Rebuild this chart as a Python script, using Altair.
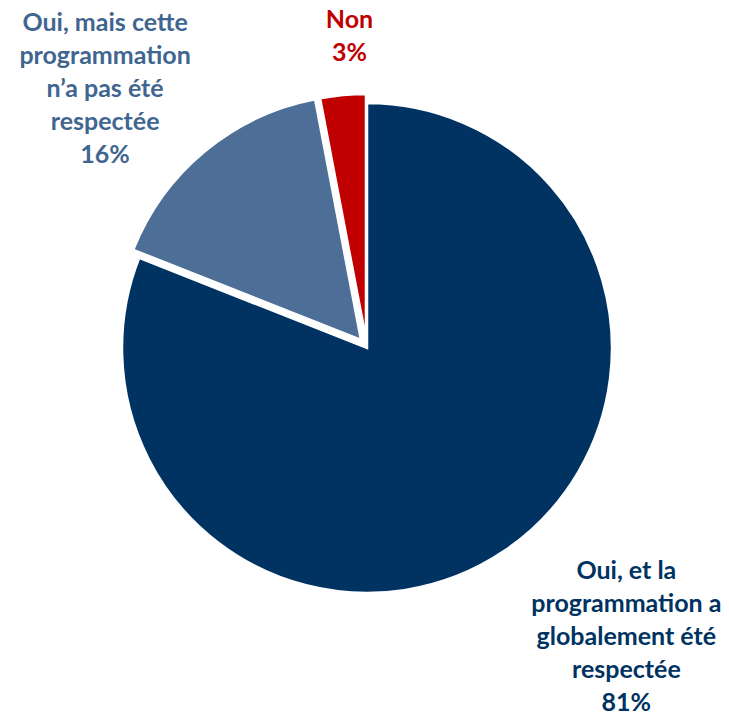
import altair as alt
import pandas as pd

categories = [
    "Oui, et la programmation a globalement été respectée",
    "Oui, mais cette programmation n’a pas été respectée",
    "Non",
]
label_lines = [
    "Oui, et la\nprogrammation a\nglobalement été\nrespectée\n81%",
    "Oui, mais cette\nprogrammation\nn’a pas été\nrespectée\n16%",
    "Non\n3%",
]
values = [81, 16, 3]

df = pd.DataFrame({
    "order": list(range(len(categories))),
    "category": categories,
    "label": label_lines,
    "value": values,
})

fills = ["#003262", "#4d6e97", "#C00000"]
text_colors = ["#003262", "#3F6690", "#C00000"]

CX, CY = 359, 340
R = 245

# explode offsets (pixels) per slice
offsets = [(0, 0), (-6, -8), (-1, -9)]
# label placement: radius, dx, dy (dy relative to first line)
label_pos = [(360, 57, -75), (345, -42, -59), (314, 12, -15)]

base = (
    alt.Chart(df)
    .transform_joinaggregate(total="sum(value)")
    .transform_window(cum="sum(value)", sort=[alt.SortField("order")], frame=[None, 0])
    .transform_calculate(
        start="(datum.cum - datum.value) / datum.total",
        end="datum.cum / datum.total",
        mid="(datum.cum - datum.value / 2) / datum.total",
    )
)

theta_scale = alt.Scale(domain=[0, 1], range=[0, 6.283185307179586])

layers = []
for i in range(len(categories)):
    ox, oy = offsets[i]
    arc = (
        base.transform_filter(f"datum.order == {i}")
        .mark_arc(outerRadius=R, stroke="white", strokeWidth=2.5, fill=fills[i])
        .encode(
            theta=alt.Theta("start:Q", scale=theta_scale),
            theta2="end:Q",
            x=alt.value(CX + ox),
            y=alt.value(CY + oy),
        )
    )
    layers.append(arc)

for i in range(len(categories)):
    r, dx, dy = label_pos[i]
    txt = (
        base.transform_filter(f"datum.order == {i}")
        .mark_text(
            radius=r,
            dx=dx,
            dy=dy,
            font="Lato",
            fontWeight="bold",
            fontSize=25,
            lineHeight=33,
            lineBreak="\n",
            align="center",
            baseline="middle",
            color=text_colors[i],
        )
        .encode(
            theta=alt.Theta("mid:Q", scale=theta_scale),
            text="label:N",
            x=alt.value(CX),
            y=alt.value(CY),
        )
    )
    layers.append(txt)

chart = (
    alt.layer(*layers)
    .properties(width=713, height=705, padding=0, autosize="none")
    .configure_view(stroke=None)
)

chart.save("out.html", embed_options={"renderer": "svg", "actions": False})
